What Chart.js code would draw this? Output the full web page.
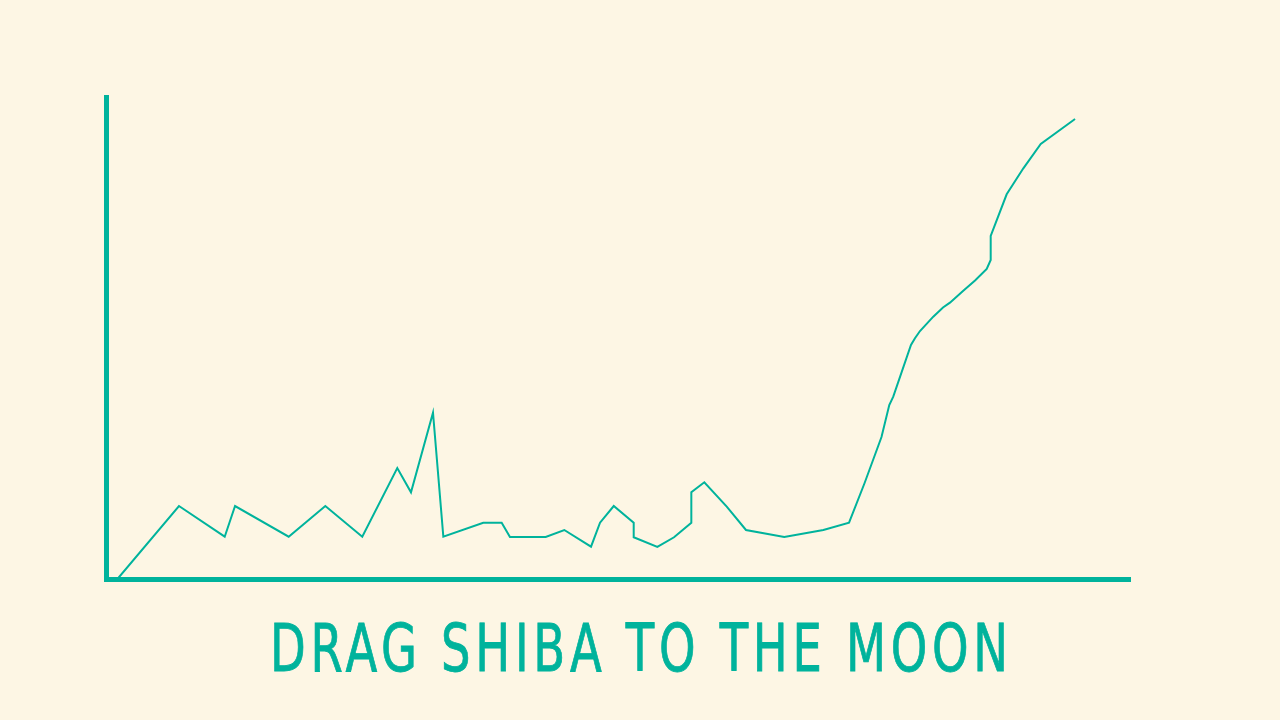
<!DOCTYPE html>
<html>
<head>
<meta charset="utf-8">
<script src="https://cdn.jsdelivr.net/npm/chart.js@4"></script>
<style>
  html, body { margin: 0; padding: 0; background: #fdf6e4; overflow: hidden; }
  #wrap { position: relative; width: 1280px; height: 720px; }
  #c { position: absolute; left: 0; top: 0; }
  #title {
    position: absolute; left: 0; top: 616px; white-space: nowrap;
    font-family: "Liberation Sans Narrow", "DejaVu Sans Condensed", "Roboto", sans-serif;
    font-size: 66px; line-height: 66px; color: #00b39c;
    letter-spacing: 6px;
    -webkit-text-stroke: 0.8px #00b39c;
    transform-origin: 0 0;
  }
</style>
</head>
<body>
<div id="wrap">
  <canvas id="c" width="1280" height="720"></canvas>
  <div id="title">DRAG SHIBA TO THE MOON</div>
</div>
<script>
// Data (x: time progress 0-100, y: price index 0-100)
const xValues = [1.03, 7.08, 11.55, 12.56, 17.80, 21.38, 24.99, 28.41, 29.75, 31.90,
  32.91, 36.81, 38.61, 39.42, 42.91, 44.73, 47.34, 48.22, 49.56, 51.51,
  51.51, 53.82, 55.45, 57.14, 57.14, 58.41, 60.60, 62.48, 66.22, 70.04,
  72.55, 74.07, 75.72, 76.48, 76.87, 78.60, 78.99, 79.48, 80.78, 81.73,
  82.41, 83.71, 84.86, 86.00, 86.39, 86.39, 87.95, 89.58, 91.28, 94.63];
const yValues = [0, 15.23, 8.87, 15.23, 8.87, 15.23, 8.87, 23.11, 18.07, 34.57,
  8.87, 11.77, 11.77, 8.81, 8.81, 10.26, 6.80, 11.77, 15.23, 11.77,
  8.75, 6.74, 8.75, 11.77, 18.07, 20.15, 15.09, 10.26, 8.81, 10.26,
  11.77, 20.00, 29.53, 36.17, 37.89, 48.60, 49.99, 51.50, 54.47, 56.37,
  57.37, 59.85, 61.97, 64.35, 66.22, 71.19, 79.83, 85.22, 90.26, 95.44];
const xRange = [0, 100];
const yRange = [0, 100];
const titleText = "DRAG SHIBA TO THE MOON";

const teal = "#00b39c";
const points = xValues.map((x, i) => ({ x: x, y: yValues[i] }));

new Chart(document.getElementById("c"), {
  type: "line",
  data: {
    datasets: [{
      data: points,
      borderColor: teal,
      borderWidth: 2,
      pointRadius: 0,
      tension: 0,
      fill: false
    }]
  },
  options: {
    responsive: false,
    animation: false,
    layout: { padding: { left: 106.5, right: 150, top: 97, bottom: 140.5 } },
    plugins: { legend: { display: false }, tooltip: { enabled: false }, title: { display: false } },
    scales: {
      x: {
        type: "linear", min: xRange[0], max: xRange[1],
        grid: { display: false, drawTicks: false },
        ticks: { display: false },
        border: { display: true, color: teal, width: 5 }
      },
      y: {
        type: "linear", min: yRange[0], max: yRange[1],
        grid: { display: false, drawTicks: false },
        ticks: { display: false },
        border: { display: true, color: teal, width: 5 }
      }
    }
  }
});

// fit title width to the reference span (270..1008); trailing letter-spacing excluded
const t = document.getElementById("title");
t.textContent = titleText;
const w = t.getBoundingClientRect().width - 6;
const target = 738;
const sx = target / w;
t.style.left = "270px";
t.style.transform = "scaleX(" + sx + ")";
</script>
</body>
</html>
